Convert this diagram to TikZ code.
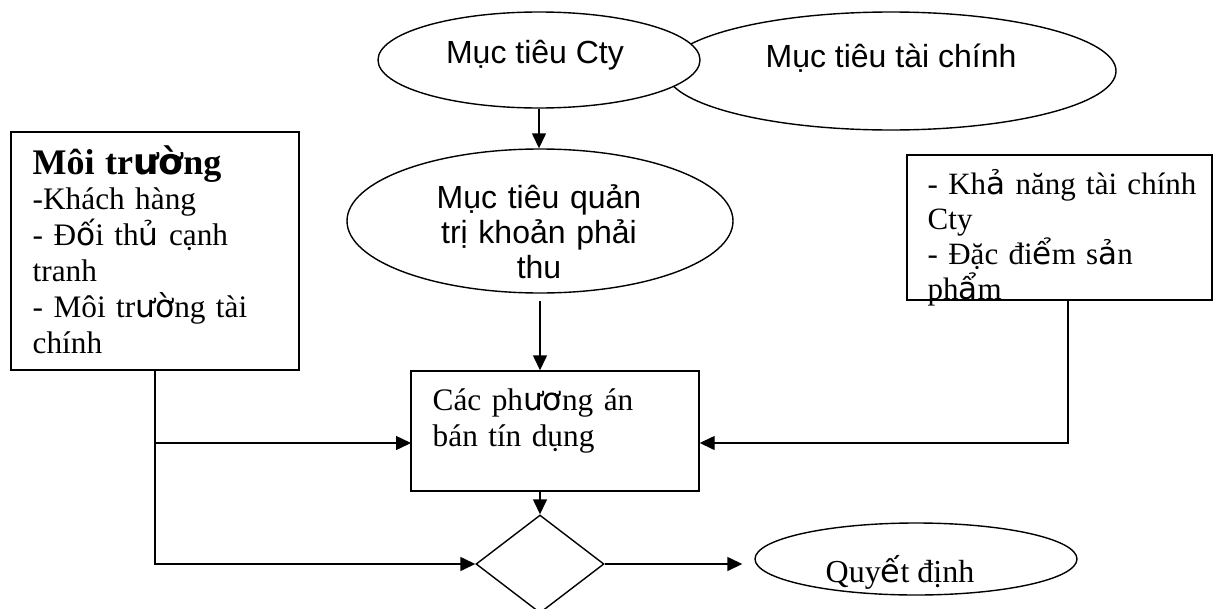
\documentclass[tikz,border=0pt]{standalone}
\usepackage{fontspec}
\setmainfont{Liberation Serif}
\newfontfamily\sansfam{Liberation Sans}
\newfontfamily\fallbackfam{DejaVu Sans}
% glyphs set in the fallback face
\newcommand\fbk[1]{{\fallbackfam #1}}
\usetikzlibrary{arrows.meta,shapes.geometric}

\begin{document}
\begin{tikzpicture}[x=1pt,y=-1pt,line width=1.4pt,
  outl/.style={draw,line width=1.4pt,fill=white,inner sep=0pt},
  ell/.style={outl,ellipse},
  rectbox/.style={outl,rectangle},
  arr/.style={-{Triangle[length=15pt,width=14pt]}},
  sanstext/.style={font=\sansfam\fontsize{32}{35}\selectfont,inner sep=0pt},
  sertext/.style={font=\fontsize{31.3}{35.8}\selectfont,inner sep=0pt}]
\useasboundingbox (0,0) rectangle (1215,608);

% top goals
\node[ell,minimum width=450pt,minimum height=118pt] (fin) at (891,71) {};
\node[ell,minimum width=322pt,minimum height=96pt] (cty) at (539,60) {};
\node[sanstext,anchor=base] (tcty) at (535,63) {Mục tiêu Cty};
\node[sanstext,anchor=base] (tfin) at (891,67) {Mục tiêu tài chính};

% receivables goal
\node[ell,minimum width=386pt,minimum height=144pt] (qt) at (540,221) {};
\node[sanstext,anchor=base,align=center,text width=300pt] (tqt) at (539,208)
  {Mục tiêu quản\\trị khoản phải\\thu};

% environment box
\node[rectbox,minimum width=288pt,minimum height=238pt] (env) at (155,251) {};
\node[sertext,anchor=base west,align=left,text width=262pt] (tenv) at (32,174)
  {{\fontsize{36}{35.8}\selectfont\bfseries Môi tr\fbk{ườ}ng}\\
   -Khách hàng\\
   - Đ\fbk{ố}i th\fbk{ủ} cạnh\\
   tranh\\
   - Môi tr\fbk{ườ}ng tài\\
   chính};

% capacity box
\node[rectbox,minimum width=305pt,minimum height=145pt] (cap) at (1059.5,227.5) {};
\node[sertext,anchor=base west,align=left,text width=280pt,
      font=\fontsize{31}{35}\selectfont] (tcap) at (927,194)
  {- Kh\fbk{ả} năng tài chính\\
   Cty\\
   - Đặc đi\fbk{ể}m s\fbk{ả}n\\
   ph\fbk{ẩ}m};

% credit options box
\node[rectbox,minimum width=288pt,minimum height=120pt] (pa) at (555,431) {};
\node[sertext,anchor=base west,align=left,text width=260pt,
      font=\fontsize{31.3}{36}\selectfont] (tpa) at (432,410)
  {Các ph\fbk{ươ}ng án\\bán tín dụng};

% decision
\node[outl,diamond,minimum width=128pt,minimum height=98pt] (dm) at (540,564) {};
\node[ell,minimum width=322pt,minimum height=72pt] (qd) at (916,559) {};
\node[sertext,anchor=base,font=\fontsize{32}{36}\selectfont] (tqd) at (900,582) {Quy\fbk{ế}t định};

% connectors
\coordinate (pain) at (411,443);
\coordinate (capout) at (1068,300);
\draw[arr] (cty.south) -- (cty.south |- qt.north);
\draw[arr,shorten <=7pt] (qt.south) -- (qt.south |- pa.north);
\draw[arr] (dm.north |- pa.south) -- (dm.north);
\draw[arr] (env.south |- pain) -- (pain);
\draw[arr] (env.south) |- (dm.west);
\draw[arr] (capout) |- (pa.east |- pain);
\draw[arr,shorten >=12pt] (dm.east) -- (qd.west |- dm.east);
\end{tikzpicture}
\end{document}
